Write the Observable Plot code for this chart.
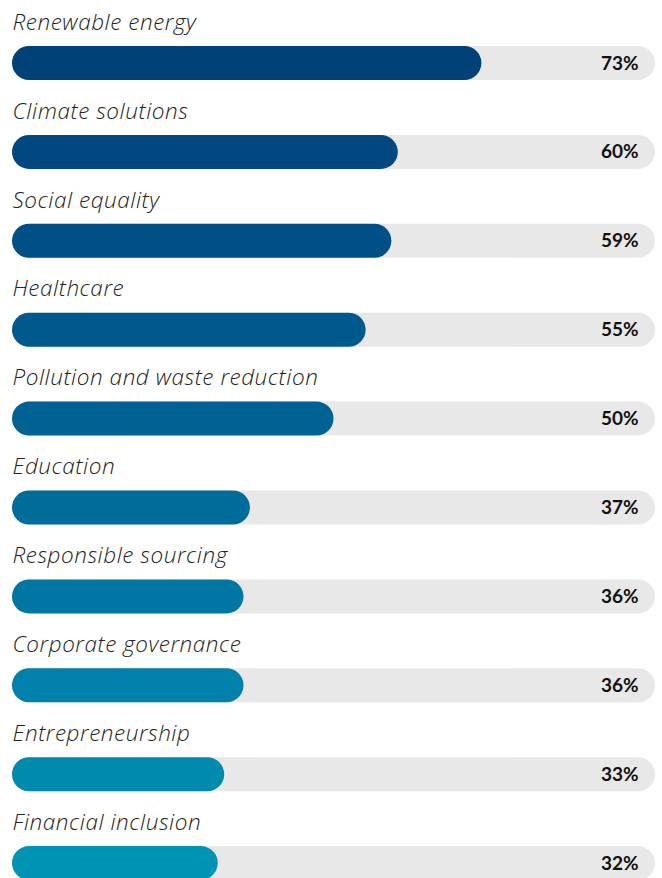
<!DOCTYPE html>
<html>
<head>
<meta charset="utf-8">
<script src="https://cdn.jsdelivr.net/npm/d3@7"></script>
<script src="https://cdn.jsdelivr.net/npm/@observablehq/plot@0.6"></script>
<style>
  html, body { margin: 0; padding: 0; background: #fff; }
  #chart svg { display: block; }
</style>
</head>
<body>
<div id="chart"></div>
<script>
const categories = [
  "Renewable energy",
  "Climate solutions",
  "Social equality",
  "Healthcare",
  "Pollution and waste reduction",
  "Education",
  "Responsible sourcing",
  "Corporate governance",
  "Entrepreneurship",
  "Financial inclusion"
];
const values = [73, 60, 59, 55, 50, 37, 36, 36, 33, 32];
const colors = ["#004177", "#00487f", "#004f86", "#00598c", "#006292", "#006c9a", "#0076a2", "#0080aa", "#008aae", "#0094b4"];

const data = categories.map((c, i) => ({category: c, value: values[i], color: colors[i], label: values[i] + "%"}));

const chart = Plot.plot({
  width: 662,
  height: 878,
  marginTop: 0, marginBottom: 0, marginLeft: 0, marginRight: 0,
  x: {domain: [0, 100], range: [12, 655], axis: null},
  y: {domain: categories, range: [46, 880.1], paddingInner: 0.6175, paddingOuter: 0, align: 0, round: false, axis: null},
  marks: [
    Plot.barX(data, {x1: 0, x2: 100, y: "category", fill: "#e8e8e8", rx: 17}),
    Plot.barX(data, {x1: 0, x2: "value", y: "category", fill: "color", rx: 17}),
    Plot.text(data, {x: 0, y: "category", text: "category", dy: -41, textAnchor: "start",
      fontSize: 22.5, fontStyle: "italic", fontWeight: 300, fontFamily: "Open Sans", fill: "#222"}),
    Plot.text(data, {x: 100, y: "category", text: "label", dx: -17, textAnchor: "end",
      fontSize: 19, fontWeight: "bold", fontFamily: "Lato", fill: "#111"})
  ]
});
const textGroups = chart.querySelectorAll('g[aria-label="text"]');
if (textGroups.length) textGroups[0].setAttribute("letter-spacing", "0.55");
document.getElementById("chart").appendChild(chart);
</script>
</body>
</html>
